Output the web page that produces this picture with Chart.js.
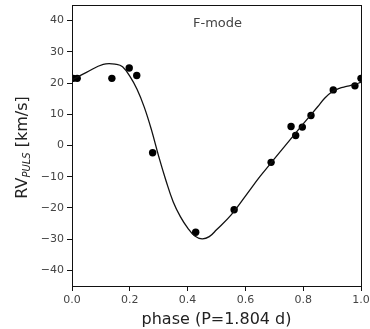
<!DOCTYPE html>
<html>
<head>
<meta charset="utf-8">
<script src="https://cdn.jsdelivr.net/npm/chart.js@4"></script>
<style>
  html, body { margin: 0; padding: 0; background: #fff; }
  #wrap { width: 370px; height: 329px; }
</style>
</head>
<body>
<div id="wrap"><canvas id="rvChart" width="370" height="329"></canvas></div>
<script>
// Observed RV points
const obsPhase = [0.004, 0.018, 0.138, 0.198, 0.224, 0.279, 0.428, 0.561, 0.689, 0.758, 0.774, 0.797, 0.827, 0.904, 0.979, 1.0];
const obsRV = [21.5, 21.5, 21.5, 24.8, 22.4, -2.3, -27.8, -20.6, -5.4, 6.1, 3.2, 5.9, 9.6, 17.8, 19.1, 21.5];

// Fitted curve
const fitPhase = [0, 0.05, 0.108, 0.155, 0.175, 0.2, 0.225, 0.25, 0.275, 0.3, 0.325, 0.35, 0.375, 0.4, 0.425, 0.45, 0.475, 0.5, 0.55, 0.6, 0.65, 0.7, 0.75, 0.8, 0.85, 0.875, 0.9, 0.925, 0.95, 0.975, 1.0];
const fitRV = [21.0, 23.4, 26.0, 26.0, 25.2, 22.2, 18.0, 12.3, 5.0, -3.5, -11.2, -18.0, -22.8, -26.4, -29.0, -29.9, -29.2, -27.0, -22.3, -16.2, -10.0, -4.3, 1.3, 6.9, 12.4, 15.2, 17.2, 18.3, 18.9, 19.5, 20.2];

// Tick labels
const xTicks = [0, 0.2, 0.4, 0.6, 0.8, 1.0];
const yTicks = [-40, -30, -20, -10, 0, 10, 20, 30, 40];

const FONT = "'DejaVu Sans', sans-serif";
const minus = s => String(s).replace('-', '\u2212');

// Box round the plot + F-mode label + y title with subscript
const framePlugin = {
  id: 'frame',
  afterDraw(chart) {
    const { ctx, chartArea: a } = chart;
    ctx.save();
    ctx.strokeStyle = '#111';
    ctx.lineWidth = 1;
    ctx.strokeRect(a.left + 0.5, a.top + 0.5, a.right - a.left, a.bottom - a.top);

    ctx.fillStyle = '#444';
    ctx.font = '13px ' + FONT;
    ctx.textBaseline = 'middle';
    ctx.fillText('F-mode', 193, 24);

    // y title: RV_PULS [km/s]
    const big = '16px ' + FONT, small = 'italic 10px ' + FONT;
    ctx.font = big; const w1 = ctx.measureText('RV').width;
    ctx.font = small; const w2 = ctx.measureText('PULS').width;
    ctx.font = big; const w3 = ctx.measureText(' [km/s]').width;
    const total = w1 + w2 + w3;
    ctx.translate(21, (a.top + a.bottom) / 2 + 2);
    ctx.rotate(-Math.PI / 2);
    ctx.fillStyle = '#222';
    let x = -total / 2;
    ctx.textBaseline = 'alphabetic';
    ctx.font = big; ctx.fillText('RV', x, 6); x += w1;
    ctx.font = small; ctx.fillText('PULS', x, 9); x += w2;
    ctx.font = big; ctx.fillText(' [km/s]', x, 6);
    ctx.restore();
  }
};

new Chart(document.getElementById('rvChart'), {
  type: 'scatter',
  data: {
    datasets: [
      {
        type: 'line',
        data: fitPhase.map((p, i) => ({ x: p, y: fitRV[i] })),
        borderColor: '#111',
        borderWidth: 1.3,
        pointRadius: 0,
        tension: 0.4,
        fill: false,
        clip: 0
      },
      {
        data: obsPhase.map((p, i) => ({ x: p, y: obsRV[i] })),
        backgroundColor: '#000',
        borderColor: '#000',
        pointRadius: 3.7,
        borderWidth: 0,
        clip: 0
      }
    ]
  },
  plugins: [framePlugin],
  options: {
    responsive: false,
    animation: false,
    layout: { padding: { top: 5, right: 9, left: 0, bottom: 0 } },
    plugins: { legend: { display: false }, tooltip: { enabled: false } },
    scales: {
      x: {
        type: 'linear',
        min: 0, max: 1,
        afterBuildTicks: s => { s.ticks = xTicks.map(v => ({ value: v })); },
        afterFit: s => { s.height = 43; s.paddingLeft = 0; s.paddingRight = 0; },
        grid: { drawOnChartArea: false, drawTicks: true, tickLength: 5, tickColor: '#111' },
        border: { display: true, color: '#111' },
        ticks: {
          color: '#444', font: { family: FONT, size: 11 }, padding: 3,
          maxRotation: 0,
          callback: v => v.toFixed(1)
        },
        title: {
          display: true, text: 'phase (P=1.804 d)', color: '#222',
          font: { family: FONT, size: 16 }, padding: { top: 1, bottom: 0 }
        }
      },
      y: {
        type: 'linear',
        min: -45, max: 45,
        afterBuildTicks: s => { s.ticks = yTicks.map(v => ({ value: v })); },
        afterFit: s => { s.width = 72; s.paddingTop = 0; s.paddingBottom = 0; },
        grid: { drawOnChartArea: false, drawTicks: true, tickLength: 5, tickColor: '#111' },
        border: { display: true, color: '#111' },
        ticks: {
          color: '#444', font: { family: FONT, size: 11 }, padding: 3,
          callback: v => minus(v)
        }
      }
    }
  }
});
</script>
</body>
</html>
